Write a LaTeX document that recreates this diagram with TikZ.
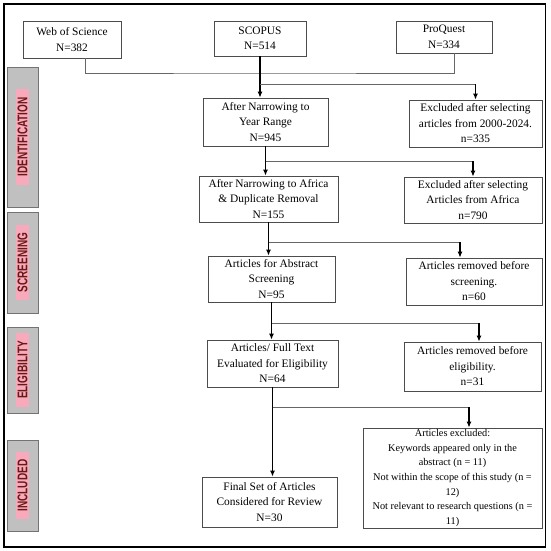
\documentclass[tikz,border=0pt]{standalone}
\usepackage{fontspec}
\setmainfont{Liberation Serif}
\setsansfont{Liberation Sans}
\usetikzlibrary{arrows.meta}
\definecolor{stagegray}{RGB}{192,192,192}
\definecolor{stagepink}{RGB}{248,170,188}
\definecolor{stageink}{RGB}{105,25,20}
\tikzset{
	box/.style={draw=black!70, line width=0.8pt, align=center, inner sep=0pt, font=\fontsize{11.4}{15.5}\selectfont},
	stage/.style={draw=black!55, fill=stagegray, line width=0.9pt, minimum width=31pt},
	stagelabel/.style={fill=stagepink, rotate=90, text=stageink, font=\sffamily\bfseries\fontsize{10}{10}\selectfont, inner xsep=8pt, inner ysep=2pt},
	arr/.style={->, line width=1.1pt},
	link/.style={black!60, line width=0.8pt}
}
\begin{document}
\begin{tikzpicture}[x=1pt, y=-1pt, >={Latex[length=6pt,width=5pt]}]
	\useasboundingbox (0,0) rectangle (550,551);
	\draw[line width=1.2pt] (4,4) rectangle (545.5,547);
	\node[stage, minimum height=140pt] (ident) at (22.5,137) {};
	\node[stagelabel] at (ident) {\scalebox{1}[1.4]{IDENTIFICATION}};
	\node[stage, minimum height=101pt] (screen) at (22.5,262.5) {};
	\node[stagelabel] at (screen) {\scalebox{1}[1.4]{SCREENING}};
	\node[stage, minimum height=86pt] (elig) at (22.5,370) {};
	\node[stagelabel] at (elig) {\scalebox{1}[1.4]{ELIGIBILITY}};
	\node[stage, minimum height=91pt] (incl) at (22.5,485.5) {};
	\node[stagelabel] at (incl) {\scalebox{1}[1.4]{INCLUDED}};
	\node[box, minimum width=98pt, minimum height=37pt] (wos) at (72,39.5) {Web of Science\\N=382};
	\node[box, minimum width=92pt, minimum height=35pt] (scopus) at (260,38.5) {SCOPUS\\N=514};
	\node[box, minimum width=96pt, minimum height=32pt] (proquest) at (444,37) {ProQuest\\N=334};
	\node[box, minimum width=125pt, minimum height=48pt] (year) at (265.5,122) {After Narrowing to\\Year Range\\N=945};
	\node[box, minimum width=133pt, minimum height=47pt] (excl1) at (475.5,123.5) {Excluded after selecting\\articles from 2000-2024.\\n=335};
	\node[box, minimum width=139pt, minimum height=46pt] (africa) at (268.5,199) {After Narrowing to Africa\\\& Duplicate Removal\\N=155};
	\node[box, minimum width=138pt, minimum height=46pt] (excl2) at (473,200) {Excluded after selecting\\Articles from Africa\\n=790};
	\node[box, minimum width=127pt, minimum height=46pt] (abstract) at (271.5,279) {Articles for Abstract\\Screening\\N=95};
	\node[box, minimum width=136pt, minimum height=47pt] (excl3) at (474,281.5) {Articles removed before\\screening.\\n=60};
	\node[box, minimum width=131pt, minimum height=47pt] (fulltext) at (272.5,363.5) {Articles/ Full Text\\Evaluated for Eligibility\\N=64};
	\node[box, minimum width=137pt, minimum height=49pt] (excl4) at (472.5,366.5) {Articles removed before\\eligibility.\\n=31};
	\node[box, minimum width=135pt, minimum height=50pt] (final) at (269.5,502) {Final Set of Articles\\Considered for Review\\N=30};
	\node[box, minimum width=179pt, minimum height=100pt, font=\fontsize{10.3}{14.7}\selectfont] (excl5) at (452.5,478) {Articles excluded:\\Keywords appeared only in the\\abstract (n = 11)\\Not within the scope of this study (n =\\12)\\Not relevant to research questions (n =\\11)};
	\coordinate (merge) at (260,73);
	\coordinate (drop3) at ([xshift=-14pt]excl3.north);
	\coordinate (drop4) at ([xshift=6.5pt]excl4.north);
	\coordinate (drop5) at ([xshift=16.5pt]excl5.north);
	\draw[link] ([xshift=13pt]wos.south) |- (merge) -| ([xshift=10pt]proquest.south);
	\draw[arr] (scopus.south) -- (scopus.south |- year.north);
	\draw[link] (scopus.south) ++(0,28) coordinate (split1) -- (split1 -| excl1.north);
	\draw[arr] (split1 -| excl1.north) -- (excl1.north);
	\draw[arr] (year.south) -- (year.south |- africa.north);
	\draw[link] (year.south) ++(0,15) coordinate (split2) -- (split2 -| excl2.north);
	\draw[arr] (split2 -| excl2.north) -- (excl2.north);
	\draw[arr] (africa.south) -- (africa.south |- abstract.north);
	\draw[link] (africa.south) ++(0,20) coordinate (split3) -- (split3 -| drop3);
	\draw[arr] (split3 -| drop3) -- (drop3);
	\draw[arr] (abstract.south) -- (abstract.south |- fulltext.north);
	\draw[link] (abstract.south) ++(0,21) coordinate (split4) -- (split4 -| drop4);
	\draw[arr] (split4 -| drop4) -- (drop4);
	\draw[arr] (fulltext.south) -- (fulltext.south |- final.north);
	\draw[link] (fulltext.south) ++(0,20) coordinate (split5) -- (split5 -| drop5);
	\draw[arr] (split5 -| drop5) -- (drop5);
\end{tikzpicture}
\end{document}
